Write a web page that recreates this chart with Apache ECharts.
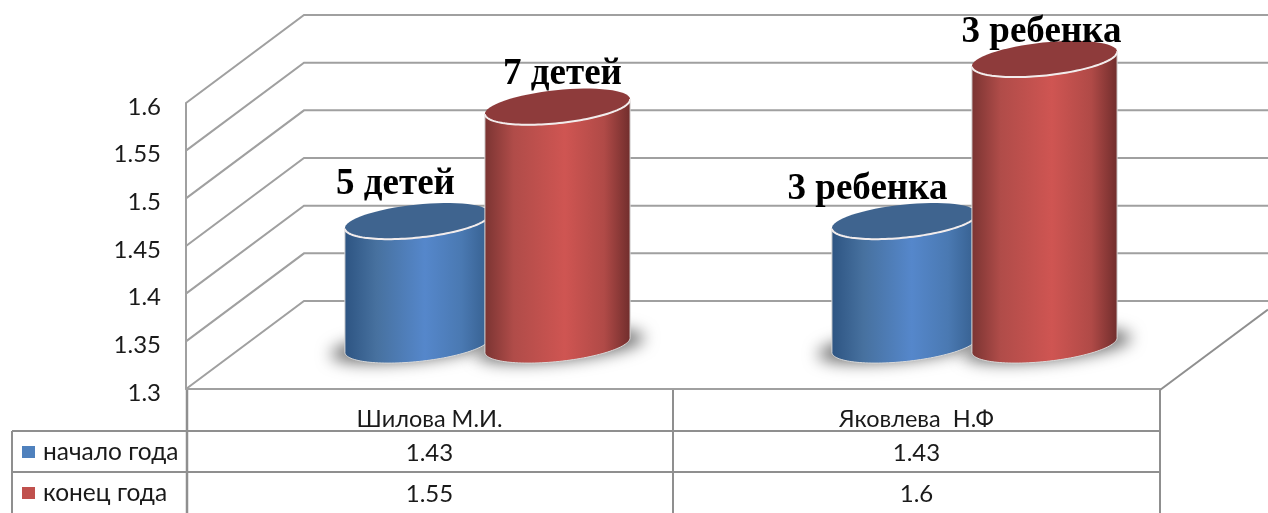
<!DOCTYPE html>
<html><head><meta charset="utf-8">
<style>html,body{margin:0;padding:0;background:#fff;overflow:hidden}#c{width:1268px;height:513px}</style>
<script src="https://cdn.jsdelivr.net/npm/echarts@6/dist/echarts.min.js"></script>
</head><body><div id="c"></div>
<script>
const categories = ['Шилова М.И.', 'Яковлева  Н.Ф'];
const seriesNames = ['начало года', 'конец года'];
const startValues = [1.43, 1.43];
const endValues = [1.55, 1.6];
const startNotes = ['5 детей', '3 ребенка'];
const endNotes = ['7 детей', '3 ребенка'];
const yTicks = [1.3, 1.35, 1.4, 1.45, 1.5, 1.55, 1.6];

// layout and style only
const UI = 'Lato', LINE = '#a0a0a0';
const DEPTH = {x: 118, y: -88};
const BAR = {dx: 58, dy: -44, spread: 70, a: 73, b: 16.5, tilt: -6 * Math.PI / 180};
const TABLE = {left: 12, axis: 187, mid: 673, right: 1160, rows: [390, 431, 472, 513], text: [453, 494]};
const NOTE_SHIFT = [[[-22, -37], [-37, -32]], [[5, -32], [-3, -27]]];
const SHADOW_LIFT = 1000;
const LOOK = [
  {legend: '#4f81bd', top: '#3f648f', stops: [[0, '#2d5482'], [0.22, '#47719f'], [0.55, '#5587cb'], [0.8, '#4a79b2'], [1, '#355e8d']]},
  {legend: '#c0504d', top: '#8e3b3b', stops: [[0, '#7a3432'], [0.2, '#b04c49'], [0.55, '#cf5552'], [0.82, '#b04a47'], [1, '#702d2c']]}
];

function ellipsePts(cx, cy, a, b, from, to) {
  const pts = [], n = 64;
  for (let i = 0; i <= n; i++) {
    const t = from + (to - from) * i / n;
    const ex = a * Math.cos(t), ey = b * Math.sin(t);
    pts.push([cx + ex * Math.cos(BAR.tilt) - ey * Math.sin(BAR.tilt),
              cy + ex * Math.sin(BAR.tilt) + ey * Math.cos(BAR.tilt)]);
  }
  return pts;
}

function cylinder(si, notes) {
  return function (params, api) {
    const idx = api.value(0), val = api.value(1);
    const front = api.coord([idx, val]);
    const floor = api.coord([idx, yTicks[0]]);
    const cx = front[0] + BAR.dx + (si ? BAR.spread : -BAR.spread);
    const topY = front[1] + BAR.dy, baseY = floor[1] + BAR.dy;
    const look = LOOK[si];
    const fill = {type: 'linear', x: 0, y: 0, x2: 1, y2: 0,
      colorStops: look.stops.map(s => ({offset: s[0], color: s[1]}))};
    const frontBase = ellipsePts(cx, baseY, BAR.a, BAR.b, 0, Math.PI);
    const outline = ellipsePts(cx, topY, BAR.a, BAR.b, 0, Math.PI);
    const shift = NOTE_SHIFT[si][idx];
    const cellX = floor[0];
    return {type: 'group', silent: true, children: [
      {type: 'polygon', z2: 1, shape: {points: ellipsePts(cx + (si ? 3 : -3), baseY + 1 - SHADOW_LIFT, BAR.a + 11, BAR.b - 2, 0, 2 * Math.PI)},
        style: {fill: '#777', shadowColor: '#6a6a6a', shadowBlur: 16, shadowOffsetY: SHADOW_LIFT}},
      {type: 'polygon', z2: 10 + si * 4, shape: {points: frontBase.concat(outline.slice().reverse())},
        style: {fill: fill, stroke: '#d9d9d9', lineWidth: 1}},
      {type: 'polygon', z2: 11 + si * 4, shape: {points: ellipsePts(cx, topY, BAR.a, BAR.b, 0, 2 * Math.PI)},
        style: {fill: look.top}},
      {type: 'polyline', z2: 12 + si * 4, shape: {points: outline},
        style: {fill: 'none', stroke: '#f2ecec', lineWidth: 2}},
      {type: 'text', z2: 30, style: {x: cx + shift[0], y: topY + shift[1], text: notes[idx], align: 'center', verticalAlign: 'middle',
        font: 'bold 37px "Liberation Serif"', fill: '#000'}},
      {type: 'text', z2: 30, style: {x: cellX, y: TABLE.text[si], text: String(val), align: 'center', verticalAlign: 'middle',
        font: '24px ' + UI, fill: '#1a1a1a'}}
    ]};
  };
}

function walls(params, api) {
  const p = api.coord([0, api.value(0)]);
  const x0 = TABLE.axis - 1;
  const y = p[1];
  return {type: 'polyline', z2: 0, silent: true,
    shape: {points: [[x0, y], [x0 + DEPTH.x, y + DEPTH.y], [1268, y + DEPTH.y]]},
    style: {fill: 'none', stroke: LINE, lineWidth: 2}};
}

function tableLines(params, api) {
  const T = TABLE, seg = (a, b, c, d, w) => ({type: 'line', silent: true, z2: 5,
    shape: {x1: a, y1: b, x2: c, y2: d}, style: {stroke: '#8f8f8f', lineWidth: w || 2}});
  return {type: 'group', children: [
    seg(T.left, T.rows[1], T.left, 513),
    seg(T.axis, T.rows[0], T.axis, 513, 2.5),
    seg(T.mid, T.rows[0], T.mid, 513),
    seg(T.right, T.rows[0], T.right, 513),
    seg(T.left, T.rows[1], T.right, T.rows[1]),
    seg(T.left, T.rows[2], T.right, T.rows[2]),
    seg(T.right, T.rows[0], T.right + DEPTH.x * 0.915, T.rows[0] + DEPTH.y * 0.915)
  ]};
}

const chart = echarts.init(document.getElementById('c'), null, {renderer: 'canvas'});
chart.setOption({
  animation: false,
  backgroundColor: '#fff',
  grid: {left: 186, right: 108, top: 103, bottom: 124},
  legend: {
    orient: 'vertical', left: 22, top: 438, padding: 0, itemWidth: 13, itemHeight: 12, itemGap: 13,
    icon: 'rect', data: seriesNames, selectedMode: false,
    textStyle: {fontFamily: UI, fontSize: 24.5, color: '#1a1a1a', lineHeight: 28, padding: [0, 0, 0, 3]}
  },
  xAxis: {
    type: 'category', data: categories,
    axisLine: {lineStyle: {color: LINE, width: 2}}, axisTick: {show: false},
    axisLabel: {margin: 18, fontFamily: UI, fontSize: 23.5, color: '#1a1a1a'}, splitLine: {show: false}
  },
  yAxis: {
    type: 'value', min: 1.3, max: 1.6, interval: 0.05,
    axisLine: {show: true, lineStyle: {color: LINE, width: 2}}, axisTick: {show: false},
    axisLabel: {margin: 25, fontFamily: UI, fontSize: 24, color: '#1a1a1a', verticalAlign: 'top', lineHeight: 8,
      formatter: v => String(Math.round(v * 100) / 100)},
    splitLine: {show: false}
  },
  series: [
    {type: 'custom', name: 'walls', coordinateSystem: 'cartesian2d', data: yTicks.map(v => [v]),
      encode: {y: 0}, renderItem: walls, z: 1},
    {type: 'custom', name: 'table', coordinateSystem: 'cartesian2d', data: [[0, yTicks[0]]],
      encode: {x: 0, y: 1}, renderItem: tableLines, z: 1},
    {type: 'custom', name: seriesNames[0], coordinateSystem: 'cartesian2d', itemStyle: {color: LOOK[0].legend},
      data: startValues.map((v, i) => [i, v]), encode: {x: 0, y: 1}, renderItem: cylinder(0, startNotes), z: 2},
    {type: 'custom', name: seriesNames[1], coordinateSystem: 'cartesian2d', itemStyle: {color: LOOK[1].legend},
      data: endValues.map((v, i) => [i, v]), encode: {x: 0, y: 1}, renderItem: cylinder(1, endNotes), z: 2}
  ]
});
</script></body></html>
